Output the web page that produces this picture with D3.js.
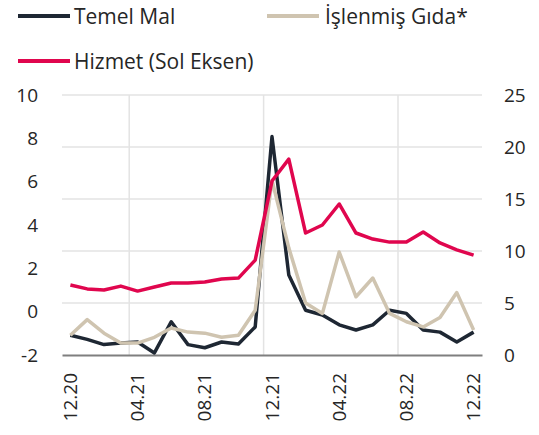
<!DOCTYPE html>
<html>
<head>
<meta charset="utf-8">
<script src="https://cdn.jsdelivr.net/npm/d3@7"></script>
<style>
  body { margin: 0; background: white; }
  text { font-family: "Open Sans", sans-serif; fill: #262626; }
</style>
</head>
<body>
<div id="chart"></div>
<script>
// Data (monthly, 12.20 - 12.22)
const months = ["12.20","01.21","02.21","03.21","04.21","05.21","06.21","07.21","08.21","09.21","10.21","11.21",
                "12.21","01.22","02.22","03.22","04.22","05.22","06.22","07.22","08.22","09.22","10.22","11.22","12.22"];
const tickLabels = ["12.20","04.21","08.21","12.21","04.22","08.22","12.22"];

// right axis
const temelMal = [1.9,1.5,1.0,1.15,1.25,0.2,3.2,1.0,0.7,1.25,1.05,2.7,
                  21.0,7.7,4.3,3.85,2.9,2.4,2.9,4.3,4.0,2.4,2.2,1.25,2.2];
const islenmisGida = [1.9,3.4,2.1,1.15,1.15,1.7,2.6,2.2,2.1,1.7,1.9,4.3,
                      16.8,10.3,5.0,4.0,9.9,5.6,7.4,4.0,3.2,2.7,3.6,6.0,2.4];
// left axis
const hizmet = [1.23,1.05,1.0,1.18,0.95,1.14,1.32,1.32,1.37,1.51,1.55,2.38,
                6.03,7.04,3.63,4.0,4.97,3.63,3.35,3.21,3.21,3.68,3.17,2.85,2.61];

const leftTicks = [-2,0,2,4,6,8,10];
const rightTicks = [0,5,10,15,20,25];

// Dimensions
const width = 539, height = 435;
const margin = {top: 95, bottom: 80, left: 62, right: 57};

const svg = d3.select('#chart')
  .append('svg')
  .attr('width', width)
  .attr('height', height)
  .style('background', 'white');

// Scales
const xScale = d3.scaleBand()
  .domain(months)
  .range([margin.left, width - margin.right])
  .padding(0);

const yLeft = d3.scaleLinear()
  .domain([-2, 10])
  .range([height - margin.bottom, margin.top]);

const yRight = d3.scaleLinear()
  .domain([0, 25])
  .range([height - margin.bottom, margin.top]);

const cx = d => xScale(d) + xScale.bandwidth() / 2;

// Horizontal gridlines (right axis ticks)
svg.append('g')
  .selectAll('line')
  .data(rightTicks.slice(1))
  .join('line')
  .attr('x1', margin.left)
  .attr('x2', width - margin.right)
  .attr('y1', d => yRight(d))
  .attr('y2', d => yRight(d))
  .attr('stroke', '#e3e3e3')
  .attr('stroke-width', 1.5);

// Vertical gridlines every 8 months
svg.append('g')
  .selectAll('line')
  .data(["04.21", "12.21", "08.22"])
  .join('line')
  .attr('x1', d => xScale(d))
  .attr('x2', d => xScale(d))
  .attr('y1', margin.top)
  .attr('y2', height - margin.bottom)
  .attr('stroke', '#e3e3e3')
  .attr('stroke-width', 1.5);

// Bottom axis
const xaxis = svg.append('g')
  .attr('transform', `translate(0,${height - margin.bottom})`)
  .call(d3.axisBottom(xScale).tickValues(tickLabels).tickSize(0));
xaxis.select('.domain').attr('stroke', '#7f7f7f').attr('stroke-width', 2);
xaxis.selectAll('text')
  .attr('transform', 'rotate(-90)')
  .attr('text-anchor', 'end')
  .attr('x', -18)
  .attr('y', 0)
  .attr('dy', '0.35em')
  .style('font-size', '19px')
  .style('font-family', '"Open Sans", sans-serif')
  .attr('fill', '#262626');

// Left axis labels
svg.append('g')
  .selectAll('text')
  .data(leftTicks)
  .join('text')
  .text(d => d)
  .attr('x', 38)
  .attr('y', d => yLeft(d))
  .attr('dy', '0.35em')
  .attr('text-anchor', 'end')
  .style('font-size', '19px');

// Right axis labels
svg.append('g')
  .selectAll('text')
  .data(rightTicks)
  .join('text')
  .text(d => d)
  .attr('x', 504)
  .attr('y', d => yRight(d))
  .attr('dy', '0.35em')
  .attr('text-anchor', 'start')
  .style('font-size', '19px');

// Lines
const series = [
  {name: 'Temel Mal', values: temelMal, y: yRight, color: '#1e2733'},
  {name: 'İşlenmiş Gıda*', values: islenmisGida, y: yRight, color: '#cfc4b0'},
  {name: 'Hizmet (Sol Eksen)', values: hizmet, y: yLeft, color: '#e0064e'}
];

series.forEach(s => {
  const line = d3.line()
    .x((d, i) => cx(months[i]))
    .y(d => s.y(d));
  svg.append('path')
    .datum(s.values)
    .attr('d', line)
    .attr('fill', 'none')
    .attr('stroke', s.color)
    .attr('stroke-width', 3.5)
    .attr('stroke-linejoin', 'round');
});

// Legend
const legendPos = [
  {x: 18, y: 16},
  {x: 267, y: 16},
  {x: 18, y: 61}
];
series.forEach((s, i) => {
  const p = legendPos[i];
  svg.append('line')
    .attr('x1', p.x)
    .attr('x2', p.x + 52)
    .attr('y1', p.y)
    .attr('y2', p.y)
    .attr('stroke', s.color)
    .attr('stroke-width', 4);
  svg.append('text')
    .text(s.name)
    .attr('x', p.x + 56 + (i === 1 ? 2 : 0))
    .attr('y', p.y + 8)
    .style('font-size', '21px');
});
</script>
</body>
</html>
